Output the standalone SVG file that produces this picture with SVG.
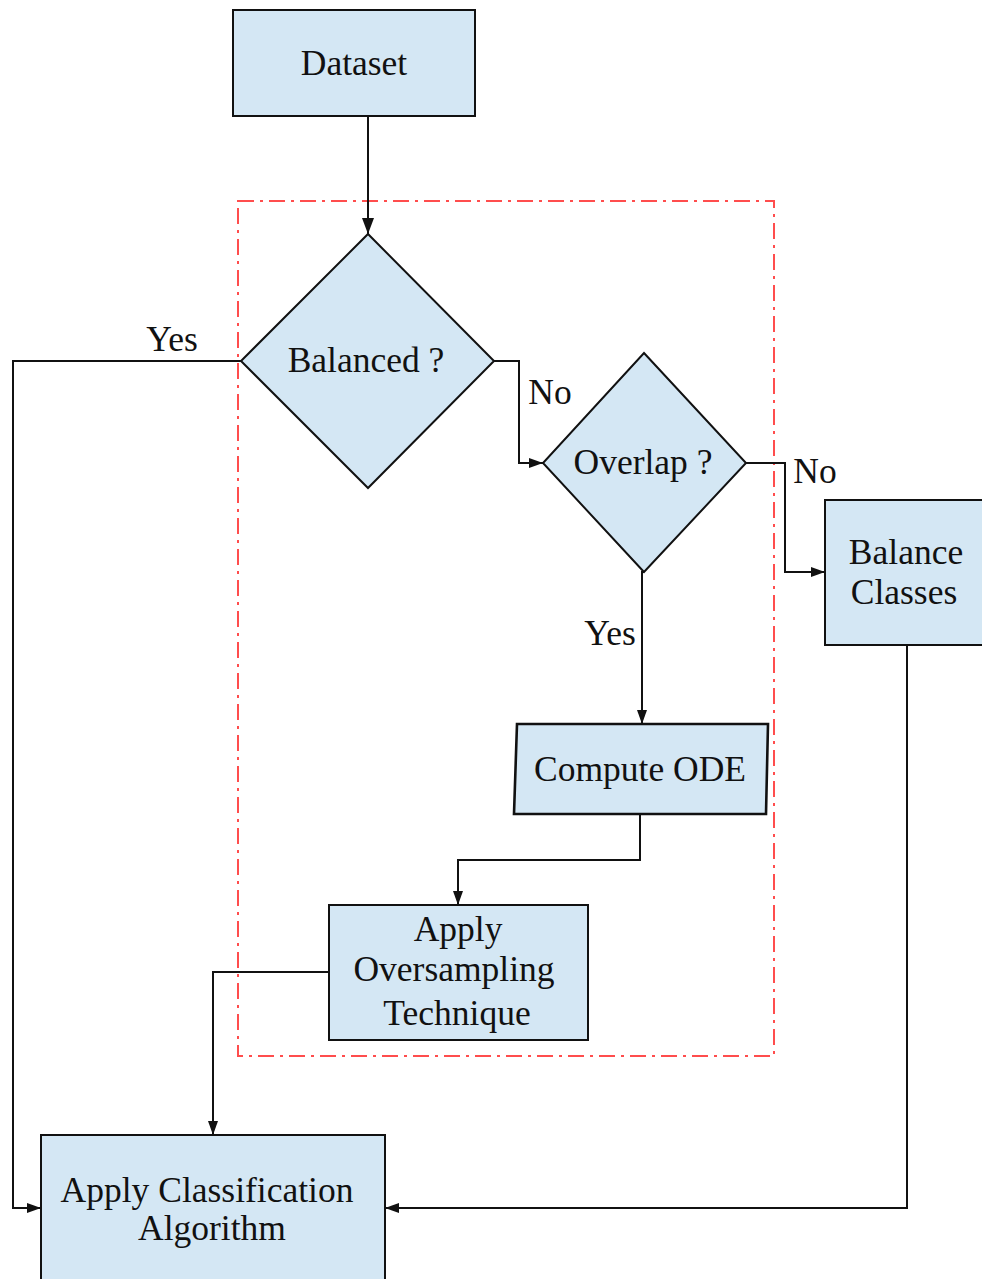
<svg xmlns="http://www.w3.org/2000/svg" width="982" height="1279" viewBox="0 0 982 1279">
<style>
.box{fill:#d4e7f4;stroke:#111;stroke-width:2}
.t{font-family:"Liberation Serif","Times New Roman",serif;font-size:35.5px;fill:#111;text-anchor:middle}
.c{fill:none;stroke:#111;stroke-width:2}
</style>
<defs>
<marker id="ah" markerWidth="14" markerHeight="10" refX="14" refY="5" orient="auto" markerUnits="userSpaceOnUse">
<path d="M0,0 L14,5 L0,10 Z" fill="#111"/>
</marker>
<marker id="ahb" markerWidth="16" markerHeight="12" refX="16" refY="6" orient="auto" markerUnits="userSpaceOnUse">
<path d="M0,0 L16,6 L0,12 Z" fill="#111"/>
</marker>
</defs>
<rect x="0" y="0" width="982" height="1279" fill="#fff"/>
<rect id="region" x="238" y="201" width="536" height="855" fill="none" stroke="#ff4d4d" stroke-width="2" stroke-dasharray="16,6,3,6"/>
<g id="connectors">
<line class="c" x1="368" y1="116" x2="368" y2="234" marker-end="url(#ahb)"/>
<polyline class="c" points="241,361 13,361 13,1208 41,1208" marker-end="url(#ah)"/>
<polyline class="c" points="494,361 519,361 519,463 543,463" marker-end="url(#ah)"/>
<polyline class="c" points="746,463 785,463 785,572 825,572" marker-end="url(#ah)"/>
<polyline class="c" points="644,572 642,572 642,724" marker-end="url(#ah)"/>
<polyline class="c" points="640,814 640,860 458,860 458,905" marker-end="url(#ah)"/>
<polyline class="c" points="329,972 213,972 213,1135" marker-end="url(#ah)"/>
<polyline class="c" points="907,645 907,1208 385,1208" marker-end="url(#ah)"/>
<text class="t" x="172" y="351">Yes</text>
<text class="t" x="550" y="404">No</text>
<text class="t" x="815" y="483">No</text>
<text class="t" x="610" y="645">Yes</text>
</g>
<g id="dataset">
<rect class="box" x="233" y="10" width="242" height="106"/>
<text class="t" x="354" y="75">Dataset</text>
</g>
<g id="balanced">
<polygon class="box" points="368,234 494,361 368,488 241,361"/>
<text class="t" x="366" y="372">Balanced ?</text>
</g>
<g id="overlap">
<polygon class="box" points="644,353 746,463 644,572 543,463"/>
<text class="t" x="643" y="474">Overlap ?</text>
</g>
<g id="balance-classes">
<rect class="box" x="825" y="500" width="160" height="145"/>
<text class="t" x="906" y="564">Balance</text>
<text class="t" x="904" y="604">Classes</text>
</g>
<g id="compute-ode">
<polygon class="box" style="stroke-width:2.6" points="517,724 768,724 766,814 514,814"/>
<text class="t" x="640" y="781">Compute ODE</text>
</g>
<g id="oversampling">
<rect class="box" x="329" y="905" width="259" height="135"/>
<text class="t" x="458" y="941">Apply</text>
<text class="t" x="454" y="981">Oversampling</text>
<text class="t" x="457" y="1025">Technique</text>
</g>
<g id="classification">
<rect class="box" x="41" y="1135" width="344" height="160"/>
<text class="t" x="207" y="1202">Apply Classification</text>
<text class="t" x="212" y="1240">Algorithm</text>
</g>
</svg>
